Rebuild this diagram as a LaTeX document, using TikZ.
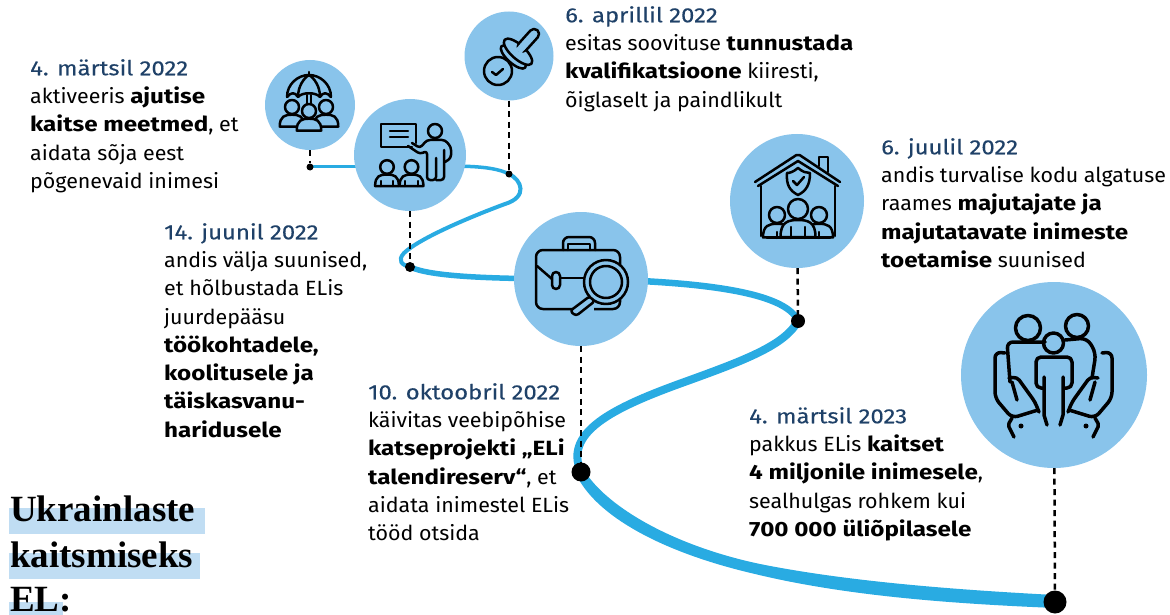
\documentclass[tikz,border=0pt]{standalone}
\usepackage{fontspec}
\setmainfont[FakeStretch=1.04,BoldFeatures={FakeStretch=1.175}]{Fira Sans}
\newfontfamily\titlefont{Liberation Serif}
\newfontfamily\datefont[FakeStretch=1.16,FakeBold=0.25]{Fira Sans}
\usetikzlibrary{positioning, backgrounds}

\definecolor{bubblecol}{HTML}{89C4EB}
\definecolor{roadcol}{HTML}{29ABE2}
\definecolor{datecol}{HTML}{1F4168}
\definecolor{markcol}{HTML}{C0DDF3}

\tikzset{
  bubble/.style={circle, fill=bubblecol, inner sep=0pt, minimum size=#1},
  waydot/.style={circle, fill=black, inner sep=0pt, minimum size=#1},
  road/.style={draw=roadcol, line width=#1, line cap=round},
  guide/.style={draw=black, line width=2.5pt, dash pattern=on 6pt off 4.5pt},
  icon/.style={draw=black, line width=2.5pt, line join=round, line cap=round},
  iconfill/.style={icon, fill=bubblecol},
  bigicon/.style={icon, line width=3.5pt},
  story/.style={anchor=north west, align=left, inner sep=0pt, font=\fontsize{20.6}{28.25}\selectfont},
  headline/.style={anchor=base west, inner sep=0pt, font=\titlefont\fontsize{37}{37}\selectfont\bfseries}
}
\newcommand{\dated}[1]{\textcolor{datecol}{\datefont #1}}
\newcommand{\iconbust}[3]{%
  \draw[iconfill] ({#1-1.75*#3},{#2+2.8*#3}) .. controls ({#1-1.75*#3},{#2+1.3*#3}) and ({#1-1*#3},{#2+1.1*#3}) .. ({#1},{#2+1.1*#3})
    .. controls ({#1+1*#3},{#2+1.1*#3}) and ({#1+1.75*#3},{#2+1.3*#3}) .. ({#1+1.75*#3},{#2+2.8*#3}) -- cycle;
  \draw[iconfill] (#1,#2) circle (#3pt);
}

\begin{document}
\begin{tikzpicture}[x=1pt,y=-1pt]
\useasboundingbox (0,0) rectangle (1170,615);

% circles and points on the way
\node[bubble=90pt] (shelter) at (310,105) {};
\node[bubble=112pt] (teacher) at (410,155) {};
\node[bubble=89pt] (stamp) at (509,56) {};
\node[bubble=134pt] (briefcase) at (581,279) {};
\node[bubble=134pt] (house) at (797,201) {};
\node[bubble=186pt] (family) at (1054,375) {};
\node[waydot=7pt] (marcha) at (310,167) {};
\node[waydot=7pt] (aprila) at (509,174) {};
\node[waydot=10pt] (junea) at (410,267) {};
\node[waydot=14pt] (julya) at (798,321) {};
\node[waydot=19pt] (octa) at (581,472) {};
\node[waydot=23pt] (marchb) at (1055,602) {};

% the way
\begin{scope}[on background layer]
\draw[road=3pt] (marcha) -- (teacher.center |- marcha);
\draw[road=3.5pt] (teacher.center |- marcha) .. controls (450,166) and (490,164) .. (aprila.center);
\draw[road=4pt] (aprila.center) .. controls (522,180) and (528,197) .. (505,204) .. controls (470,217) and (420,238) .. (404,253) .. controls (397,261) and (402,265) .. (junea.center);
\draw[road=5.5pt] (junea.center) .. controls (430,276) and (480,279) .. (briefcase.center);
\draw[road=6.5pt] (briefcase.center) .. controls (690,281) and (785,290) .. (julya.center);
\draw[road=8pt] (julya.center) .. controls (785,345) and (745,360) .. (690,380) .. controls (620,405) and (562,430) .. (octa.center);
\fill[roadcol] (584,470) .. controls (605,505) and (670,545) .. (760,564) .. controls (850,582) and (960,590) .. (1055,595) -- (1055,608) .. controls (960,604) and (850,597) .. (755,574) .. controls (660,552) and (595,515) .. (576,474) -- cycle;
\end{scope}

% dashed guides
\draw[guide] (shelter) -- (marcha);
\draw[guide] (teacher) -- (junea);
\draw[guide] (stamp) -- (aprila);
\draw[guide] (briefcase) -- (octa);
\draw[guide] (house) -- (julya);
\draw[guide] (family) -- (marchb);

% umbrella and people
\draw[icon] (309,72) -- (309,76);
\draw[icon] (287,97) .. controls (287,84) and (298,75) .. (309,75) .. controls (320,75) and (331,84) .. (331,97);
\draw[icon] (287,97) .. controls (291,92) and (295,92) .. (298,97) .. controls (302,92) and (316,92) .. (320,97) .. controls (323,92) and (327,92) .. (331,97);
\draw[icon] (298,97) .. controls (298,86) and (304,78) .. (309,75) .. controls (314,78) and (320,86) .. (320,97);
\draw[icon] (307,95) -- (307,104) (311,95) -- (311,104);
\iconbust{292}{107}{7}
\iconbust{326}{107}{7}
\iconbust{309}{111}{7}

% board, speaker, listeners
\draw[icon] (412,147) -- (381,147) -- (381,124) -- (416,124) -- (416,143);
\draw[icon] (390,131) -- (408,131) (390,137) -- (408,137);
\draw[icon] (435,131) circle (7pt);
\draw[icon, rounded corners=3pt] (412,143) -- (420,148) -- (427,140) -- (445,140) -- (451,147) -- (451,158) -- (445,162);
\draw[icon, rounded corners=3pt] (408,146) -- (420,154) -- (427,151) -- (427,180) -- (436,180) -- (436,158);
\draw[icon, rounded corners=3pt] (436,180) -- (444,180) -- (444,150);
\iconbust{387}{167}{6.8}
\iconbust{411.5}{167}{6.8}
\draw[icon] (381,186) -- (381,181) (393,186) -- (393,181) (405,186) -- (405,181) (418,186) -- (418,181);

% stamp
\draw[icon] (498,71) circle (14pt);
\draw[icon] (492,72) -- (496,75) -- (503,69);
\begin{scope}[rotate around={-42:(516,54)}]
\draw[iconfill] (516,58) ellipse [x radius=16, y radius=6];
\draw[iconfill] (516,51) ellipse [x radius=18, y radius=7];
\draw[iconfill, rounded corners=5pt] (511,22) rectangle (521,49);
\fill[bubblecol] (512.5,44) rectangle (519.5,50.5);
\end{scope}

% briefcase and lens
\draw[icon, rounded corners=6pt] (563,250) -- (563,237) -- (595,237) -- (595,250);
\draw[icon] (568,250) -- (568,244) -- (590,244) -- (590,250);
\draw[icon, rounded corners=7pt] (536,250) rectangle (620,309);
\draw[icon, rounded corners=6pt] (537,266) -- (552,279);
\draw[icon] (560,278) -- (586,278);
\draw[iconfill, rounded corners=4pt] (552,272) rectangle (560,289);
\fill[bubblecol] (575,303) rectangle (594,312);
\draw[iconfill, rounded corners=3pt] (590,296) -- (595,301) -- (576,316) -- (570,311) -- cycle;
\draw[iconfill] (606,282) circle (22pt);
\draw[icon] (606,282) circle (16pt);

% house
\draw[icon, rounded corners=2pt] (755,182) -- (798,154) -- (840,182);
\draw[icon] (758,186) -- (798,161) -- (838,186);
\draw[icon] (819,166) -- (819,157) -- (828,157) -- (828,172);
\draw[icon] (761,186) -- (761,236) (835,186) -- (835,236);
\draw[icon] (798,168) .. controls (793,172) and (790,173) .. (787,173) .. controls (786,185) and (790,191) .. (798,195) .. controls (806,191) and (810,185) .. (810,173) .. controls (806,173) and (803,172) .. (798,168) -- cycle;
\draw[icon] (793,181) -- (797,185) -- (804,177);
\iconbust{777}{215}{8}
\iconbust{819}{215}{8}
\iconbust{798}{209}{10}
\draw[icon] (767,238) -- (830,238);
\draw[icon] (777,238) -- (777,232) (819,238) -- (819,232) (791,238) -- (791,227) (805,238) -- (805,227);

% family in hands
\draw[bigicon] (1028,328) circle (12.5pt);
\draw[bigicon] (1077,326) circle (11.5pt);
\draw[bigicon, rounded corners=6pt] (1010,382) -- (1007,342) -- (1045,342);
\draw[bigicon, rounded corners=7pt] (1065,340) -- (1087,338) -- (1096,353) -- (1092,378);
\draw[bigicon] (1053.5,343) circle (10pt);
\draw[bigicon, rounded corners=5pt] (1043,388) -- (1036,388) -- (1036,357) -- (1072,357) -- (1072,388) -- (1065,388);
\foreach \mirror in {1,-1}{
\begin{scope}[xshift=1053.5pt, xscale=\mirror, xshift=-1053.5pt]
\draw[bigicon] (1044,377) -- (1044,415) -- (1047,425);
\draw[bigicon, rounded corners=6pt] (1005,353) -- (995,352) -- (995,398) -- (1012,418) -- (1038,410);
\draw[bigicon, rounded corners=4pt] (1009,378) -- (1017,377) -- (1035,402) -- (1039,412);
\draw[bigicon] (1012,382) -- (1017,400);
\draw[bigicon, rounded corners=2pt] (1012,418) -- (1008,425) -- (1014,437);
\fill (1021,426) circle (2.5pt);
\end{scope}
}

% texts
\node[story] (txtmarch) at (30,59) {\dated{4. märtsil 2022}\\aktiveeris \textbf{ajutise}\\\textbf{kaitse meetmed}, et\\aidata sõja eest\\põgenevaid inimesi};
\node[story] (txtapril) at (565,6) {\dated{6. aprillil 2022}\\esitas soovituse \textbf{tunnustada}\\\textbf{kvalifikatsioone} kiiresti,\\õiglaselt ja paindlikult};
\node[story] (txtjuly) at (881,138) {\dated{6. juulil 2022}\\andis turvalise kodu algatuse\\raames \textbf{majutajate ja}\\\textbf{majutatavate inimeste}\\\textbf{toetamise} suunised};
\node[story] (txtjune) at (164,223) {\dated{14. juunil 2022}\\andis välja suunised,\\et hõlbustada ELis\\juurdepääsu\\\textbf{töökohtadele,}\\\textbf{koolitusele ja}\\\textbf{täiskasvanu-}\\\textbf{haridusele}};
\node[story] (txtoct) at (368,383) {\dated{10. oktoobril 2022}\\käivitas veebipõhise\\\textbf{katseprojekti „ELi}\\\textbf{talendireserv“}, et\\aidata inimestel ELis\\tööd otsida};
\node[story] (txtwar) at (749,407) {\dated{4. märtsil 2023}\\pakkus ELis \textbf{kaitset}\\\textbf{4 miljonile inimesele},\\sealhulgas rohkem kui\\\textbf{700 000 üliõpilasele}};

% title
\fill[markcol] (9,508) rectangle (205,534);
\fill[markcol] (9,553) rectangle (200,579);
\fill[markcol] (9,602) rectangle (63,615);
\node[headline] (titlea) at (10,521) {Ukrainlaste};
\node[headline] (titleb) at (10,567) {kaitsmiseks};
\node[headline] (titlec) at (10,611) {EL:};
\end{tikzpicture}
\end{document}
